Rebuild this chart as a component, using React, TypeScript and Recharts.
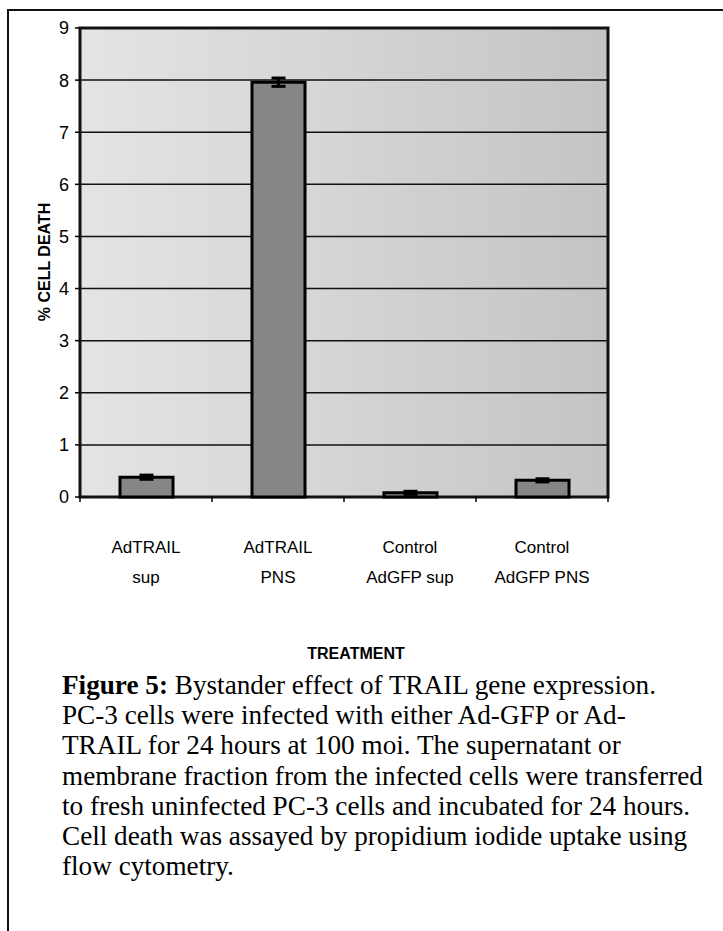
import { BarChart, Bar, XAxis, YAxis, CartesianGrid, ErrorBar, ReferenceArea } from 'recharts';

const labelTop = ['AdTRAIL', 'AdTRAIL', 'Control', 'Control'];
const labelBottom = ['sup', 'PNS', 'AdGFP sup', 'AdGFP PNS'];
const cellDeath = [0.38, 7.96, 0.08, 0.32];
const cellDeathErr = [0.04, 0.08, 0.03, 0.03];
const yTicks = [0, 1, 2, 3, 4, 5, 6, 7, 8, 9];

const data = labelTop.map((t, i) => ({
  name: `${t} ${labelBottom[i]}`,
  top: t,
  bottom: labelBottom[i],
  value: cellDeath[i],
  err: cellDeathErr[i],
}));

const sans = '"Liberation Sans", Arial, sans-serif';
const serif = '"Liberation Serif", "Times New Roman", serif';

function CategoryTick(props: any) {
  const { x, y, payload, index } = props;
  const half = payload?.offset ?? 0;
  const row = data[index];
  return (
    <g>
      <line x1={x - half} y1={y} x2={x - half} y2={y + 5} stroke="#000" strokeWidth={1.5} />
      {index === data.length - 1 && (
        <line x1={x + half} y1={y} x2={x + half} y2={y + 5} stroke="#000" strokeWidth={1.5} />
      )}
      <text x={x} y={y + 56} textAnchor="middle" fontSize={17} fontFamily={sans} fill="#000">
        {row?.top}
      </text>
      <text x={x} y={y + 86} textAnchor="middle" fontSize={17} fontFamily={sans} fill="#000">
        {row?.bottom}
      </text>
    </g>
  );
}

export default function App() {
  return (
    <div style={{ position: 'absolute', left: 0, top: 0, width: 723, height: 931, background: '#fff', overflow: 'hidden' }}>
      <div
        style={{
          position: 'absolute',
          left: 7,
          top: 9,
          width: 740,
          height: 940,
          borderTop: '2px solid #111',
          borderLeft: '2px solid #111',
        }}
      />
      <div style={{ position: 'absolute', left: 0, top: 0 }}>
        <BarChart width={723} height={610} data={data} margin={{ top: 28, right: 115, bottom: 0, left: 20 }}>
          <defs>
            <linearGradient id="plotBg" x1="0" y1="0" x2="1" y2="0">
              <stop offset="0%" stopColor="#e4e4e4" />
              <stop offset="45%" stopColor="#d6d6d6" />
              <stop offset="100%" stopColor="#c4c4c4" />
            </linearGradient>
          </defs>
          <CartesianGrid vertical={false} stroke="#111" strokeWidth={1.5} fill="url(#plotBg)" fillOpacity={1} />
          <XAxis
            dataKey="name"
            interval={0}
            axisLine={false}
            tickLine={false}
            tickSize={0}
            tickMargin={0}
            height={113}
            tick={<CategoryTick />}
          />
          <YAxis
            type="number"
            domain={[0, 9]}
            ticks={yTicks}
            interval={0}
            width={60}
            axisLine={false}
            tickLine={{ stroke: '#000', strokeWidth: 1.5 }}
            tickSize={5}
            tickMargin={6}
            tick={{ fontSize: 18, fontFamily: sans, fill: '#000' }}
          />
          <ReferenceArea y1={0} y2={9} fill="none" stroke="#111" strokeWidth={3} ifOverflow="extendDomain" />
          <Bar dataKey="value" barSize={53} fill="#868686" stroke="#000" strokeWidth={3} isAnimationActive={false}>
            <ErrorBar dataKey="err" width={7} stroke="#000" strokeWidth={3} direction="y" />
          </Bar>
        </BarChart>
      </div>
      <div
        style={{
          position: 'absolute',
          left: 45,
          top: 262,
          transform: 'translate(-50%, -50%) rotate(-90deg)',
          fontFamily: sans,
          fontWeight: 'bold',
          fontSize: 16,
          whiteSpace: 'nowrap',
          color: '#000',
        }}
      >
        % CELL DEATH
      </div>
      <div
        style={{
          position: 'absolute',
          left: 356,
          top: 645,
          transform: 'translateX(-50%)',
          fontFamily: sans,
          fontWeight: 'bold',
          fontSize: 16,
          color: '#000',
          whiteSpace: 'nowrap',
        }}
      >
        TREATMENT
      </div>
      <div
        style={{
          position: 'absolute',
          left: 62,
          top: 670,
          width: 661,
          fontFamily: serif,
          fontSize: 27.2,
          lineHeight: '30.2px',
          color: '#000',
          whiteSpace: 'nowrap',
        }}
      >
        <b>Figure 5:</b> Bystander effect of TRAIL gene expression.
        <br />
        PC-3 cells were infected with either Ad-GFP or Ad-
        <br />
        TRAIL for 24 hours at 100 moi. The supernatant or
        <br />
        membrane fraction from the infected cells were transferred
        <br />
        to fresh uninfected PC-3 cells and incubated for 24 hours.
        <br />
        Cell death was assayed by propidium iodide uptake using
        <br />
        flow cytometry.
      </div>
    </div>
  );
}
